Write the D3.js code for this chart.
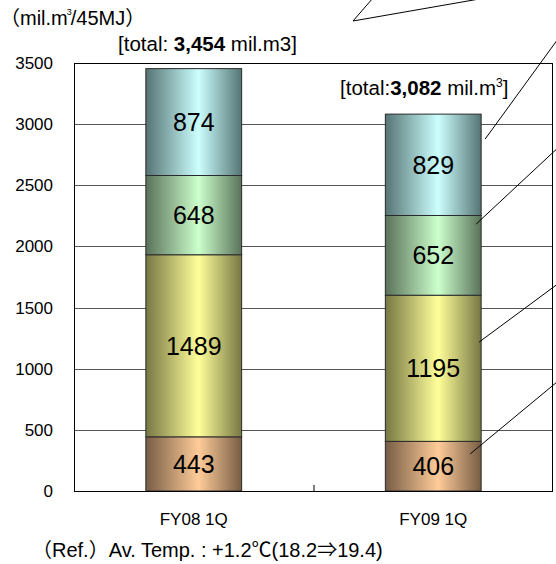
<!DOCTYPE html>
<html>
<head>
<meta charset="utf-8">
<script src="https://cdn.jsdelivr.net/npm/d3@7"></script>
<style>
  html, body { margin: 0; padding: 0; background: #fff; }
  svg { display: block; font-family: "Liberation Sans", Arial, "Noto Sans CJK JP", sans-serif; }
</style>
</head>
<body>
<svg id="chart" width="556" height="564"></svg>
<script>
// ---- data ----
const categories = ["FY08 1Q", "FY09 1Q"];
const seriesKeys = ["s1", "s2", "s3", "s4"]; // bottom to top
const s1 = [443, 406];
const s2 = [1489, 1195];
const s3 = [648, 652];
const s4 = [874, 829];
const totals = [3454, 3082];
const yTicks = [0, 500, 1000, 1500, 2000, 2500, 3000, 3500];
// leader lines from FY09 bar segments (value at start, value at end)
const leaderStart = [2878, 2183, 1218, 303];
const leaderEnd = [3753, 2845, 1725, 932];

const W = 556, H = 564;
const margin = { top: 63, right: 3, bottom: 73, left: 74 };
const iw = W - margin.left - margin.right;
const ih = H - margin.top - margin.bottom;

const svg = d3.select("#chart");
const defs = svg.append("defs");

const palette = {
  s1: { light: "#ffcc99", dark: "#775d45" },
  s2: { light: "#ffff99", dark: "#777745" },
  s3: { light: "#ccffcc", dark: "#5a725a" },
  s4: { light: "#ccffff", dark: "#567474" }
};
seriesKeys.forEach(k => {
  const g = defs.append("linearGradient").attr("id", "grad-" + k)
    .attr("x1", "0%").attr("x2", "100%").attr("y1", "0%").attr("y2", "0%");
  g.append("stop").attr("offset", "0%").attr("stop-color", palette[k].dark);
  g.append("stop").attr("offset", "55%").attr("stop-color", palette[k].light);
  g.append("stop").attr("offset", "100%").attr("stop-color", palette[k].dark);
});

const rows = categories.map((c, i) => ({ cat: c, s1: s1[i], s2: s2[i], s3: s3[i], s4: s4[i] }));
const stacked = d3.stack().keys(seriesKeys)(rows);

const x = d3.scaleBand().domain(categories).range([0, iw]).paddingInner(0.6).paddingOuter(0.3);
const xb = d3.scaleBand().domain(categories).range([0, iw]);
const y = d3.scaleLinear().domain([0, 3500]).range([ih, 0]);

const g = svg.append("g").attr("transform", `translate(${margin.left},${margin.top})`);

// gridlines
g.append("g").selectAll("line").data(yTicks.filter(t => t > 0 && t < 3500)).join("line")
  .attr("x1", 0).attr("x2", iw)
  .attr("y1", d => Math.round(y(d)) + 0.5).attr("y2", d => Math.round(y(d)) + 0.5)
  .attr("stroke", "#555").attr("stroke-width", 1);

// y axis labels
const yAxis = d3.axisLeft(y).tickValues(yTicks).tickFormat(d3.format("d")).tickSize(0).tickPadding(21);
const ya = g.append("g").call(yAxis);
ya.select(".domain").remove();
ya.selectAll("text").attr("font-size", 17).attr("fill", "#000")
  .attr("font-family", "Liberation Sans, Arial, sans-serif");

// bars
const layer = g.append("g").selectAll("g").data(stacked).join("g")
  .attr("fill", d => `url(#grad-${d.key})`);
layer.selectAll("rect").data(d => d).join("rect")
  .attr("x", d => x(d.data.cat))
  .attr("width", x.bandwidth())
  .attr("y", d => y(d[1]))
  .attr("height", d => y(d[0]) - y(d[1]))
  .attr("stroke", "#2a2a2a").attr("stroke-width", 1);

// value labels
const lbl = g.append("g").selectAll("g").data(stacked).join("g");
lbl.selectAll("text").data(d => d).join("text")
  .attr("x", d => x(d.data.cat) + x.bandwidth() / 2)
  .attr("y", d => y((d[0] + d[1]) / 2))
  .attr("dy", "0.36em")
  .attr("text-anchor", "middle")
  .attr("font-size", 25)
  .attr("fill", "#000")
  .text(d => d[1] - d[0]);

// frame
g.append("rect").attr("x", 0.5).attr("y", 0.5).attr("width", iw - 1).attr("height", ih)
  .attr("fill", "none").attr("stroke", "#000").attr("stroke-width", 1);

// x axis: category boundary tick
g.append("line")
  .attr("x1", xb(categories[1]) + 0.5).attr("x2", xb(categories[1]) + 0.5)
  .attr("y1", ih).attr("y2", ih - 6).attr("stroke", "#000");

// category labels
g.append("g").selectAll("text").data(categories).join("text")
  .attr("x", d => x(d) + x.bandwidth() / 2)
  .attr("y", ih + 34)
  .attr("text-anchor", "middle")
  .attr("font-size", 17)
  .text(d => d);

// total labels
const fmt = d3.format(",");
const t1 = svg.append("text").attr("x", 118).attr("y", 51).attr("font-size", 20.5);
t1.append("tspan").text("[total: ");
t1.append("tspan").attr("font-weight", "bold").text(fmt(totals[0]));
t1.append("tspan").text(" mil.m3]");

const t2 = svg.append("text").attr("x", 340).attr("y", 95).attr("font-size", 20.5);
t2.append("tspan").text("[total:");
t2.append("tspan").attr("font-weight", "bold").text(fmt(totals[1]));
t2.append("tspan").text(" mil.m");
t2.append("tspan").attr("font-size", 12).attr("dy", -8).text("3");
t2.append("tspan").attr("dy", 8).text("]");

// unit label
const u = svg.append("text").attr("x", 0).attr("y", 25).attr("font-size", 20);
u.append("tspan").text("（mil.m");
u.append("tspan").attr("font-size", 9).attr("dy", -10).attr("dx", -1).text("3");
u.append("tspan").attr("dy", 10).attr("dx", -1).text("/45MJ）");

// reference temperature note
svg.append("text").attr("x", 32).attr("y", 557).attr("font-size", 20)
  .text("（Ref.）Av. Temp. : +1.2℃(18.2⇒19.4)");

// leader lines (annotation pointing to clipped legend)
const bx2 = x(categories[1]) + x.bandwidth();
const starts = [bx2 + 4, bx2 - 5, bx2 - 2, bx2 - 11];
g.append("g").selectAll("line").data(leaderStart).join("line")
  .attr("x1", (d, i) => starts[i])
  .attr("y1", d => y(d))
  .attr("x2", iw + 10)
  .attr("y2", (d, i) => y(leaderEnd[i]))
  .attr("stroke", "#000").attr("stroke-width", 1);

// callout shape at top
svg.append("path").attr("d", "M373,-2 L353,21 L485,-2")
  .attr("fill", "none").attr("stroke", "#000").attr("stroke-width", 1);
</script>
</body>
</html>
